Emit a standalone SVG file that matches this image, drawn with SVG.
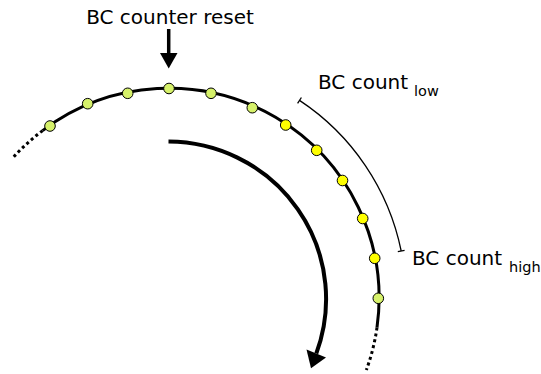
<svg xmlns="http://www.w3.org/2000/svg" width="541" height="374" viewBox="0 0 541 374">
  <style>
    .label { font-family: "DejaVu Sans", "Liberation Sans", sans-serif; fill: #000; }
    .main { font-size: 20px; }
    .sub { font-size: 14.5px; }
    .ring { fill: none; stroke: #000; stroke-width: 3; }
    .ring-dotted { fill: none; stroke: #000; stroke-width: 3; stroke-dasharray: 3 3; }
    .bunch { stroke: #000; stroke-width: 1; }
    .filled { fill: #d6f16a; }
    .colliding { fill: #ffff00; }
    .bracket { fill: none; stroke: #000; stroke-width: 1.3; }
  </style>

  <rect width="541" height="374" fill="#fff"/>

  <!-- orbit ring, centre (169,298.3), r = 210 -->
  <g id="ring">
    <path class="ring" d="M42.6,130.6 A210,210 0 0 1 377,327.5"/>
    <path class="ring-dotted" d="M42.6,130.6 A210,210 0 0 0 12.9,157.8"/>
    <path class="ring-dotted" d="M377,327.5 A210,210 0 0 1 366.3,370.1"/>
  </g>

  <!-- bunch slots along the ring -->
  <g id="bunches">
    <circle class="bunch filled" cx="50" cy="126" r="5.3"/>
    <circle class="bunch filled" cx="87.7" cy="103.7" r="5.3"/>
    <circle class="bunch filled" cx="127.7" cy="93.3" r="5.3"/>
    <circle class="bunch filled" cx="169" cy="88.5" r="5.3"/>
    <circle class="bunch filled" cx="211" cy="93.3" r="5.3"/>
    <circle class="bunch filled" cx="252.3" cy="107.7" r="5.3"/>
    <circle class="bunch colliding" cx="285.7" cy="125" r="5.3"/>
    <circle class="bunch colliding" cx="316.7" cy="150.3" r="5.3"/>
    <circle class="bunch colliding" cx="342.5" cy="180.5" r="5.3"/>
    <circle class="bunch colliding" cx="362.7" cy="218.5" r="5.3"/>
    <circle class="bunch colliding" cx="374.7" cy="258.3" r="5.3"/>
    <circle class="bunch filled" cx="378.3" cy="298.3" r="5.3"/>
  </g>

  <!-- reset marker -->
  <g id="reset">
    <text class="label main" x="170" y="24" text-anchor="middle">BC counter reset</text>
    <line x1="168.7" y1="29" x2="168.7" y2="54" stroke="#000" stroke-width="3.5"/>
    <polygon points="160,53 177.5,53 168.7,68.5" fill="#000"/>
  </g>

  <!-- count window bracket -->
  <g id="window">
    <path class="bracket" d="M299.5,100.4 A237,237 0 0 1 401.2,251"/>
    <line class="bracket" x1="297.6" y1="103.3" x2="301.4" y2="97.5"/>
    <line class="bracket" x1="397.8" y1="251.7" x2="404.6" y2="250.3"/>
  </g>

  <g id="label-low">
    <text class="label main" x="318" y="89">BC count</text>
    <text class="label sub" x="414" y="95.5">low</text>
  </g>

  <g id="label-high">
    <text class="label main" x="412" y="265">BC count</text>
    <text class="label sub" x="509" y="272">high</text>
  </g>

  <!-- direction of revolution -->
  <g id="connectors">
    <path d="M168.5,141.5 A158.5,157.5 0 0 1 316.3,353.5" fill="none" stroke="#000" stroke-width="4"/>
    <polygon points="306.5,349.5 326,357.5 311,368.3" fill="#000"/>
  </g>
</svg>
